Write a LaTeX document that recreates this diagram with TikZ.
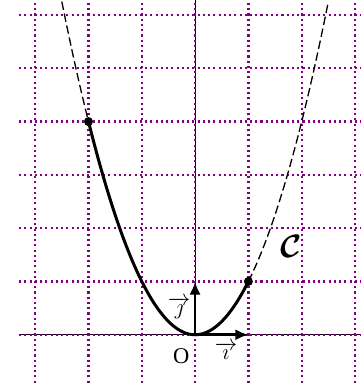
\documentclass[tikz,border=0pt]{standalone}
\usepackage{amsmath,bm}
\usepackage{fontspec}
\setmainfont{Liberation Serif}
\usetikzlibrary{arrows.meta}
\definecolor{gridpurple}{RGB}{128,0,128}
\begin{document}
\begin{tikzpicture}[x=1cm,y=1cm,
  gridline/.style={gridpurple,line width=1.2pt,dash pattern=on 1.1pt off 1.7pt},
  axisline/.style={black,line width=0.6pt},
  solidcurve/.style={black,line width=1.6pt},
  dashcurve/.style={black,line width=0.7pt,dash pattern=on 4.5pt off 2pt},
  vecarrow/.style={black,line width=1.4pt,-{Latex[length=7pt,width=6pt]}},
  pt/.style={circle,fill=black,inner sep=0pt,minimum size=4.8pt},
  lab/.style={inner sep=0.5pt,font=\large}]
\useasboundingbox (-3.66,-0.98) rectangle (3.10,6.28);
% axes
\draw[axisline] (-3.3,0) -- (3.1,0);
\draw[axisline] (0,0) -- (0,6.28);
% grid
\foreach \x in {-3,...,3} \draw[gridline] (\x,-0.9) -- (\x,6.28);
\foreach \y in {0,...,6} \draw[gridline] (-3.3,\y) -- (3.1,\y);
% curve
\draw[dashcurve,domain=-2.5:-2,samples=20] plot (\x,{\x*\x});
\draw[dashcurve,domain=1:2.5,samples=30] plot (\x,{\x*\x});
\draw[solidcurve,domain=-2:1,samples=80] plot (\x,{\x*\x});
\node[pt] (A) at (-2,4) {};
\node[pt] (B) at (1,1) {};
% vectors
\coordinate (O) at (0,0);
\coordinate (I) at (1,0);
\coordinate (J) at (0,1);
\draw[vecarrow] (O) -- (I);
\draw[vecarrow] (O) -- (J);
\node[lab] (Olab) at (-0.26,-0.41) {O};
\node[lab] (ilab) at (0.58,-0.3) {$\overrightarrow{\imath}$};
\node[lab] (jlab) at (-0.3,0.5) {$\overrightarrow{\jmath}$};
\node (Clab) at (1.8,1.65) {\LARGE$\bm{\mathcal{C}}$};
\end{tikzpicture}
\end{document}
